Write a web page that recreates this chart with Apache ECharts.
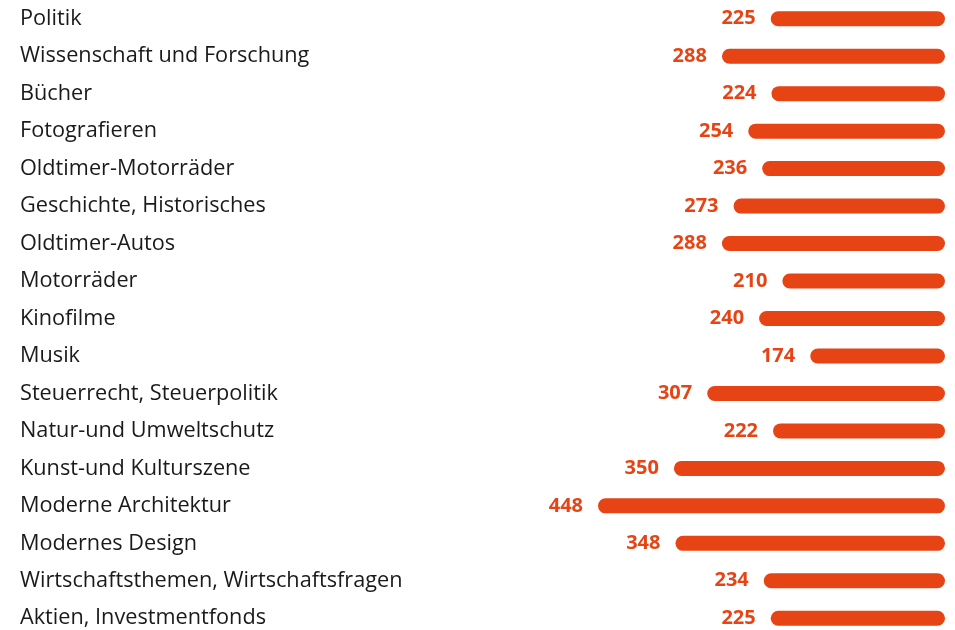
<!DOCTYPE html>
<html>
<head>
<meta charset="utf-8">
<script src="https://cdn.jsdelivr.net/npm/echarts@6/dist/echarts.min.js"></script>
<style>
  html, body { margin: 0; padding: 0; background: #fff; overflow: hidden; }
</style>
</head>
<body>
<div id="myChart1" style="width: 955px; height: 637px;"></div>
<script>
// Themen
var categories = [
  "Politik",
  "Wissenschaft und Forschung",
  "Bücher",
  "Fotografieren",
  "Oldtimer-Motorräder",
  "Geschichte, Historisches",
  "Oldtimer-Autos",
  "Motorräder",
  "Kinofilme",
  "Musik",
  "Steuerrecht, Steuerpolitik",
  "Natur-und Umweltschutz",
  "Kunst-und Kulturszene",
  "Moderne Architektur",
  "Modernes Design",
  "Wirtschaftsthemen, Wirtschaftsfragen",
  "Aktien, Investmentfonds"
];
var values = [225, 288, 224, 254, 236, 273, 288, 210, 240, 174, 307, 222, 350, 448, 348, 234, 225];

var myChart = echarts.init(document.getElementById("myChart1"));
var option = {
  animation: false,
  grid: {
    left: 519,
    right: 10,
    top: 0,
    bottom: 0
  },
  xAxis: {
    type: "value",
    inverse: true,
    min: 0,
    max: 550,
    show: false
  },
  yAxis: {
    type: "category",
    inverse: true,
    position: "left",
    data: categories,
    axisLine: { show: false, onZero: false },
    axisTick: { show: false },
    axisLabel: {
      align: "left",
      margin: 499,
      color: "#1a1a1a",
      fontFamily: "Open Sans",
      fontSize: 21.7
    }
  },
  series: [
    {
      type: "bar",
      data: values,
      barWidth: 15,
      itemStyle: {
        color: "#e64415",
        borderRadius: 8
      },
      label: {
        show: true,
        position: "left",
        distance: 15,
        color: "#e64415",
        fontFamily: "Open Sans",
        fontWeight: "bold",
        fontSize: 20
      }
    }
  ]
};
myChart.setOption(option);
</script>
</body>
</html>
